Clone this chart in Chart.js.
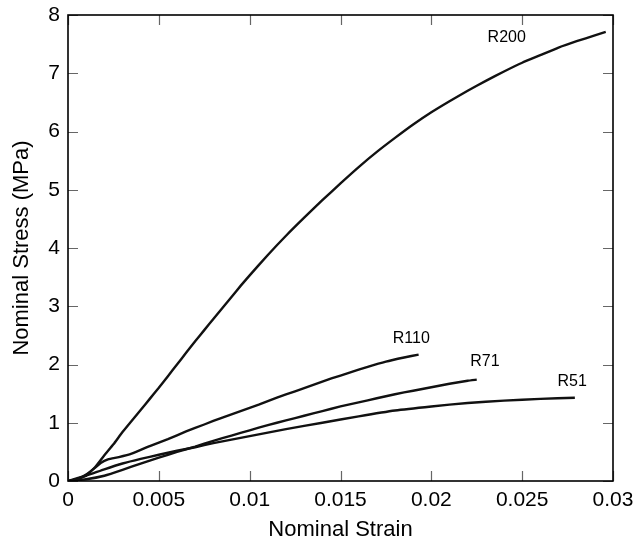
<!DOCTYPE html>
<html>
<head>
<meta charset="utf-8">
<script src="https://cdn.jsdelivr.net/npm/chart.js@4.4.1/dist/chart.umd.min.js"></script>
<style>
  html, body { margin: 0; padding: 0; background: #fff; }
  #wrap { width: 636px; height: 542px; }
</style>
</head>
<body>
<div id="wrap"><canvas id="c" width="636" height="542"></canvas></div>
<script>
// ---- Data ----
const seriesNames = ["R200", "R110", "R71", "R51"];

const r200Strain = [0, 0.0005, 0.001, 0.0015, 0.002, 0.0025, 0.003, 0.0035, 0.004, 0.0045, 0.005, 0.0055, 0.006, 0.0065, 0.007, 0.0075, 0.008, 0.0085, 0.009, 0.0095, 0.010, 0.011, 0.012, 0.013, 0.014, 0.015, 0.016, 0.017, 0.018, 0.019, 0.020, 0.021, 0.022, 0.023, 0.024, 0.025, 0.026, 0.027, 0.028, 0.029, 0.0296];
const r200Stress = [0, 0.03, 0.10, 0.24, 0.44, 0.63, 0.84, 1.03, 1.22, 1.41, 1.60, 1.80, 2.00, 2.20, 2.40, 2.59, 2.78, 2.97, 3.16, 3.35, 3.53, 3.88, 4.21, 4.52, 4.82, 5.11, 5.39, 5.65, 5.89, 6.12, 6.33, 6.52, 6.70, 6.87, 7.03, 7.18, 7.31, 7.44, 7.55, 7.65, 7.71];

const r110Strain = [0, 0.0005, 0.001, 0.0015, 0.0018, 0.0022, 0.0028, 0.0035, 0.0045, 0.0055, 0.0065, 0.0075, 0.0085, 0.0095, 0.0105, 0.0115, 0.0125, 0.0135, 0.0145, 0.0155, 0.0165, 0.0175, 0.0185, 0.0193];
const r110Stress = [0, 0.03, 0.11, 0.23, 0.31, 0.37, 0.41, 0.47, 0.60, 0.72, 0.85, 0.97, 1.09, 1.20, 1.31, 1.43, 1.54, 1.65, 1.76, 1.86, 1.96, 2.05, 2.12, 2.17];

const r71Strain = [0, 0.001, 0.002, 0.003, 0.004, 0.005, 0.006, 0.007, 0.008, 0.009, 0.010, 0.011, 0.012, 0.013, 0.014, 0.015, 0.016, 0.017, 0.018, 0.019, 0.020, 0.021, 0.022, 0.0225];
const r71Stress = [0, 0.03, 0.09, 0.19, 0.30, 0.40, 0.50, 0.59, 0.69, 0.78, 0.87, 0.96, 1.04, 1.12, 1.20, 1.28, 1.35, 1.42, 1.49, 1.55, 1.61, 1.67, 1.72, 1.74];

const r51Strain = [0, 0.001, 0.002, 0.003, 0.004, 0.005, 0.006, 0.007, 0.008, 0.009, 0.010, 0.012, 0.014, 0.016, 0.018, 0.020, 0.022, 0.024, 0.026, 0.0279];
const r51Stress = [0, 0.09, 0.20, 0.30, 0.38, 0.45, 0.52, 0.58, 0.65, 0.71, 0.77, 0.89, 1.00, 1.11, 1.21, 1.28, 1.34, 1.38, 1.41, 1.43];

// curve label anchors (data coordinates)
const labelStrain = [0.02415, 0.01890, 0.02295, 0.02775];
const labelStress = [7.62, 2.45, 2.05, 1.70];

const xTicks = [0, 0.005, 0.01, 0.015, 0.02, 0.025, 0.03];
const yTicks = [0, 1, 2, 3, 4, 5, 6, 7, 8];

// ---- Build datasets ----
function pts(xs, ys) { return xs.map((x, i) => ({ x: x, y: ys[i] })); }
const allStrain = [r200Strain, r110Strain, r71Strain, r51Strain];
const allStress = [r200Stress, r110Stress, r71Stress, r51Stress];

const FONT = "Arial, 'Liberation Sans', Helvetica, sans-serif";

const datasets = seriesNames.map((n, i) => ({
  label: n,
  data: pts(allStrain[i], allStress[i]),
  showLine: true,
  borderColor: '#111',
  backgroundColor: '#111',
  borderWidth: 2.4,
  pointRadius: 0,
  tension: 0.15
}));

const framePlugin = {
  id: 'frame',
  afterDraw(chart) {
    const { ctx, chartArea: a, scales } = chart;
    ctx.save();
    ctx.strokeStyle = '#666';
    ctx.lineWidth = 1.2;
    const L = 10;
    xTicks.forEach(v => {
      const px = Math.round(scales.x.getPixelForValue(v)) + 0.5;
      ctx.beginPath();
      ctx.moveTo(px, a.bottom); ctx.lineTo(px, a.bottom - L);
      ctx.moveTo(px, a.top); ctx.lineTo(px, a.top + L);
      ctx.stroke();
    });
    yTicks.forEach(v => {
      const py = Math.round(scales.y.getPixelForValue(v)) + 0.5;
      ctx.beginPath();
      ctx.moveTo(a.left, py); ctx.lineTo(a.left + L, py);
      ctx.moveTo(a.right, py); ctx.lineTo(a.right - L, py);
      ctx.stroke();
    });
    ctx.strokeStyle = '#000';
    ctx.lineWidth = 1.6;
    ctx.strokeRect(a.left, a.top, a.right - a.left, a.bottom - a.top);
    ctx.fillStyle = '#000';
    ctx.font = '16px ' + FONT;
    ctx.textAlign = 'center';
    ctx.textBaseline = 'middle';
    seriesNames.forEach((n, i) => {
      ctx.fillText(n, scales.x.getPixelForValue(labelStrain[i]), scales.y.getPixelForValue(labelStress[i]));
    });
    ctx.restore();
  }
};

function noPad(scale) {
  scale.paddingTop = 0; scale.paddingBottom = 0;
  scale.paddingLeft = 0; scale.paddingRight = 0;
}

new Chart(document.getElementById('c'), {
  type: 'scatter',
  data: { datasets },
  options: {
    responsive: false,
    animation: false,
    events: [],
    layout: { padding: { top: 15, right: 23, left: 0, bottom: 0 } },
    plugins: { legend: { display: false }, tooltip: { enabled: false } },
    scales: {
      x: {
        type: 'linear',
        min: 0, max: 0.03,
        grid: { display: false, drawTicks: false },
        border: { display: false },
        afterBuildTicks(scale) { scale.ticks = xTicks.map(v => ({ value: v })); },
        afterFit(scale) { scale.height = 61; noPad(scale); },
        ticks: {
          autoSkip: false, maxRotation: 0, padding: 7,
          color: '#000',
          font: { family: FONT, size: 21 },
          callback: v => String(Number(Number(v).toFixed(4)))
        },
        title: {
          display: true, text: 'Nominal Strain', color: '#000',
          font: { family: FONT, size: 22, lineHeight: 1 },
          padding: { top: 0, bottom: 1 }
        }
      },
      y: {
        type: 'linear',
        min: 0, max: 8,
        grid: { display: false, drawTicks: false },
        border: { display: false },
        afterBuildTicks(scale) { scale.ticks = yTicks.map(v => ({ value: v })); },
        afterFit(scale) { scale.width = 68; noPad(scale); },
        ticks: {
          autoSkip: false, padding: 8,
          color: '#000',
          font: { family: FONT, size: 21 },
          callback: v => String(v)
        },
        title: {
          display: true, text: 'Nominal Stress (MPa)', color: '#000',
          font: { family: FONT, size: 22, lineHeight: 1 },
          padding: { top: 11, bottom: 0 }
        }
      }
    }
  },
  plugins: [framePlugin]
});
</script>
</body>
</html>
